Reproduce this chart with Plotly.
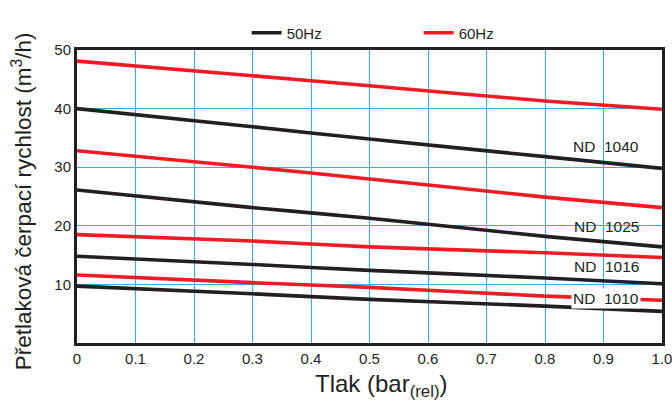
import plotly.graph_objects as go

pressure = [0.0, 0.3, 0.5, 0.8, 1.0]

models = ["ND  1040", "ND  1025", "ND  1016", "ND  1010"]
flow_50hz = {
    "ND  1040": [40.0, 36.9, 34.8, 31.8, 29.8],
    "ND  1025": [26.1, 23.1, 21.3, 18.2, 16.4],
    "ND  1016": [14.8, 13.4, 12.4, 11.1, 10.1],
    "ND  1010": [9.7, 8.4, 7.45, 6.3, 5.4],
}
flow_60hz = {
    "ND  1040": [48.1, 45.6, 43.9, 41.3, 39.9],
    "ND  1025": [32.8, 30.0, 28.0, 24.9, 23.1],
    "ND  1016": [18.5, 17.4, 16.4, 15.4, 14.6],
    "ND  1010": [11.6, 10.3, 9.5, 8.0, 7.3],
}
label_x = 0.905
label_y = {"ND  1040": 33.5, "ND  1025": 19.8, "ND  1016": 13.0, "ND  1010": 7.6}

x_ticks = [0, 0.1, 0.2, 0.3, 0.4, 0.5, 0.6, 0.7, 0.8, 0.9, 1.0]
x_tick_text = ["0", "0.1", "0.2", "0.3", "0.4", "0.5", "0.6", "0.7", "0.8", "0.9", "1.0"]
y_ticks = [10, 20, 30, 40, 50]

BLACK = "#231F20"
RED = "#ED1C24"
GRID = "#29B3EA"
FONT = "Liberation Sans, Arial, sans-serif"

fig = go.Figure()
for i, m in enumerate(models):
    fig.add_trace(go.Scatter(x=pressure, y=flow_50hz[m], mode="lines",
                             line=dict(color=BLACK, width=3.6, shape="spline", smoothing=0.6),
                             name="50Hz", legendgroup="50", showlegend=(i == 0)))
for i, m in enumerate(models):
    fig.add_trace(go.Scatter(x=pressure, y=flow_60hz[m], mode="lines",
                             line=dict(color=RED, width=3.6, shape="spline", smoothing=0.6),
                             name="60Hz", legendgroup="60", showlegend=(i == 0)))

for m in models:
    fig.add_annotation(x=label_x, y=label_y[m], text=m, showarrow=False,
                       font=dict(size=15.5, color=BLACK, family=FONT),
                       bgcolor="white" if m == "ND  1010" else "rgba(0,0,0,0)",
                       borderpad=1)

fig.add_annotation(xref="paper", yref="paper", x=0.521, y=-0.145,
                   text="Tlak (bar<sub>(rel)</sub>)", showarrow=False,
                   font=dict(size=24, color=BLACK, family=FONT),
                   xanchor="center", yanchor="middle")
fig.add_annotation(xref="paper", yref="paper", x=-0.094, y=0.484,
                   text="Přetlaková čerpací rychlost (m<sup>3</sup>/h)", showarrow=False,
                   textangle=-90,
                   font=dict(size=22.5, color=BLACK, family=FONT),
                   xanchor="center", yanchor="middle")

fig.update_layout(
    width=672, height=403,
    margin=dict(l=77, r=10, t=50, b=60, autoexpand=False),
    paper_bgcolor="white", plot_bgcolor="white",
    font=dict(family=FONT, color=BLACK, size=15),
    showlegend=True,
    legend=dict(orientation="h", x=0.29, y=1.058, xanchor="left", yanchor="middle",
                entrywidth=127, entrywidthmode="pixels",
                font=dict(size=15, color=BLACK, family=FONT),
                bgcolor="rgba(0,0,0,0)"),
    xaxis=dict(range=[0, 1], tickvals=x_ticks, ticktext=x_tick_text, automargin=False,
               ticklabeloverflow="allow",
               showgrid=True, gridcolor=GRID, gridwidth=1.2,
               showline=True, linecolor=BLACK, linewidth=3, mirror=True,
               zeroline=False, ticks="", tickfont=dict(size=15, color=BLACK)),
    yaxis=dict(range=[0, 50], tickvals=y_ticks, automargin=False,
               ticklabeloverflow="allow",
               showgrid=True, gridcolor=GRID, gridwidth=1.2,
               showline=True, linecolor=BLACK, linewidth=3, mirror=True,
               zeroline=False, ticks="", tickfont=dict(size=15, color=BLACK)),
)

fig.write_html("out.html", config={"displayModeBar": False},
               post_script="document.body.style.margin='0';document.body.style.padding='0';")
